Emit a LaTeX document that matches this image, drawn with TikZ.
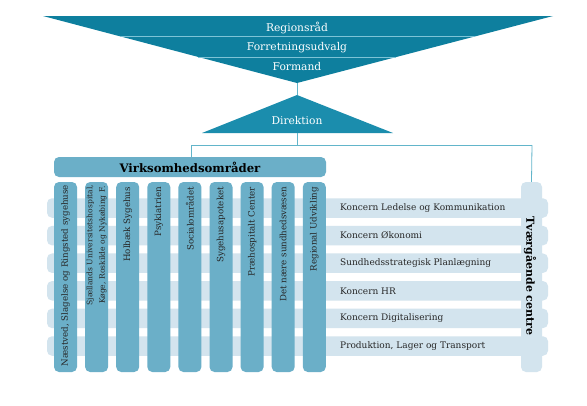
\documentclass[tikz,border=0pt]{standalone}
\usepackage{fontspec}
\setmainfont{DejaVu Serif}
\usetikzlibrary{calc}
\definecolor{dteal}{HTML}{0E7F9E}
\definecolor{mteal}{HTML}{1B8DAD}
\definecolor{colblue}{HTML}{6BAFC8}
\definecolor{bandblue}{HTML}{D3E4EE}
\definecolor{linec}{HTML}{62B5CA}
\definecolor{sepc}{HTML}{7DC3D6}
\begin{document}
\begin{tikzpicture}[x=1pt,y=-1pt,
  toptext/.style={text=white,font=\fontsize{10.7}{12}\selectfont,inner sep=0pt},
  conn/.style={draw=linec,line width=0.8pt},
  colbox/.style={fill=colblue,rounded corners=5pt,minimum width=23pt,minimum height=190pt,inner sep=0pt},
  coltext/.style={font=\fontsize{8.7}{12.5}\selectfont,text=black!85,inner sep=0pt,rotate=90,anchor=east,align=center},
  bandbox/.style={fill=bandblue,rounded corners=5pt,minimum width=501pt,minimum height=19.5pt,inner sep=0pt},
  bandtext/.style={font=\fontsize{9}{10}\selectfont,text=black!85,anchor=west,inner sep=0pt},
  virkbox/.style={fill=colblue,rounded corners=5pt,minimum width=272pt,minimum height=20pt,inner sep=0pt,font=\bfseries\fontsize{11.7}{13}\selectfont},
  tvbox/.style={fill=bandblue,rounded corners=5pt,minimum width=21pt,minimum height=190pt,inner sep=0pt}
]
\useasboundingbox[fill=white] (0,0) rectangle (587,405);
% top triangle
\coordinate (tl) at (43,16);
\coordinate (tr) at (553,16);
\coordinate (tapex) at (297,83);
\fill[dteal] (tl) -- (tr) -- (tapex) -- cycle;
\draw[sepc,line width=0.8pt] ($(tl)!0.306!(tapex)$) -- ($(tr)!0.306!(tapex)$);
\draw[sepc,line width=0.8pt] ($(tl)!0.612!(tapex)$) -- ($(tr)!0.612!(tapex)$);
\node[toptext] (rr) at (297,27.5) {Regionsråd};
\node[toptext] (fu) at (297,47.5) {Forretningsudvalg};
\node[toptext] (fm) at (297,67) {Formand};
% direktion
\coordinate (dapex) at (297,95);
\coordinate (dbl) at (202,133);
\coordinate (dbr) at (393,133);
\coordinate (dbase) at (297,133);
\fill[mteal] (dapex) -- (dbr) -- (dbl) -- cycle;
\node[toptext] (dir) at (297,121) {Direktion};
% connectors
\coordinate (hub) at (297,145);
\coordinate (hl) at (191,145);
\coordinate (hr) at (532,145);
\draw[conn] (tapex) -- (dapex);
\draw[conn] (dbase) -- (hub);
\draw[conn] (hl) -- (hr);
% virksomhedsomraader
\node[virkbox] (virk) at (190,167) {Virksomhedsområder};
\draw[conn] (hl) -- (hl |- virk.north);
% bands
\foreach \i/\t in {0/Koncern Ledelse og Kommunikation,1/Koncern Økonomi,2/Sundhedsstrategisk Planlægning,3/Koncern HR,4/Koncern Digitalisering,5/{Produktion, Lager og Transport}}{
  \node[bandbox] (b\i) at (297.5,{208+27.6*\i}) {};
  \node[bandtext] (bt\i) at (340,{208+27.6*\i}) {\t};
}
% tvaergaaende
\node[tvbox] (tv) at (531.5,277) {};
\draw[conn] (hr) -- (tv.north);
\node[font=\bfseries\fontsize{11}{12}\selectfont,rotate=-90,inner sep=0pt] (tvt) at (530,276) {Tværgående centre};
% columns
\foreach \i in {0,...,8}{
  \node[colbox] (c\i) at ({65.5+31.1*\i},277) {};
}
\node[coltext] (ct0) at ([yshift=-3pt]c0.north) {Næstved, Slagelse og Ringsted sygehuse};
\node[coltext,font=\fontsize{7.6}{12.5}\selectfont] (ct1) at ([yshift=-3pt]c1.north) {Sjællands Universitetshospital,\\Køge, Roskilde og Nykøbing F.};
\node[coltext] (ct2) at ([yshift=-5pt]c2.north) {Holbæk Sygehus};
\node[coltext] (ct3) at ([yshift=-5pt]c3.north) {Psykiatrien};
\node[coltext] (ct4) at ([yshift=-5pt]c4.north) {Socialområdet};
\node[coltext] (ct5) at ([yshift=-5pt]c5.north) {Sygehusapoteket};
\node[coltext] (ct6) at ([yshift=-5pt]c6.north) {Præhospitalt Center};
\node[coltext] (ct7) at ([yshift=-5pt]c7.north) {Det nære sundhedsvæsen};
\node[coltext] (ct8) at ([yshift=-5pt]c8.north) {Regional Udvikling};
\end{tikzpicture}
\end{document}
